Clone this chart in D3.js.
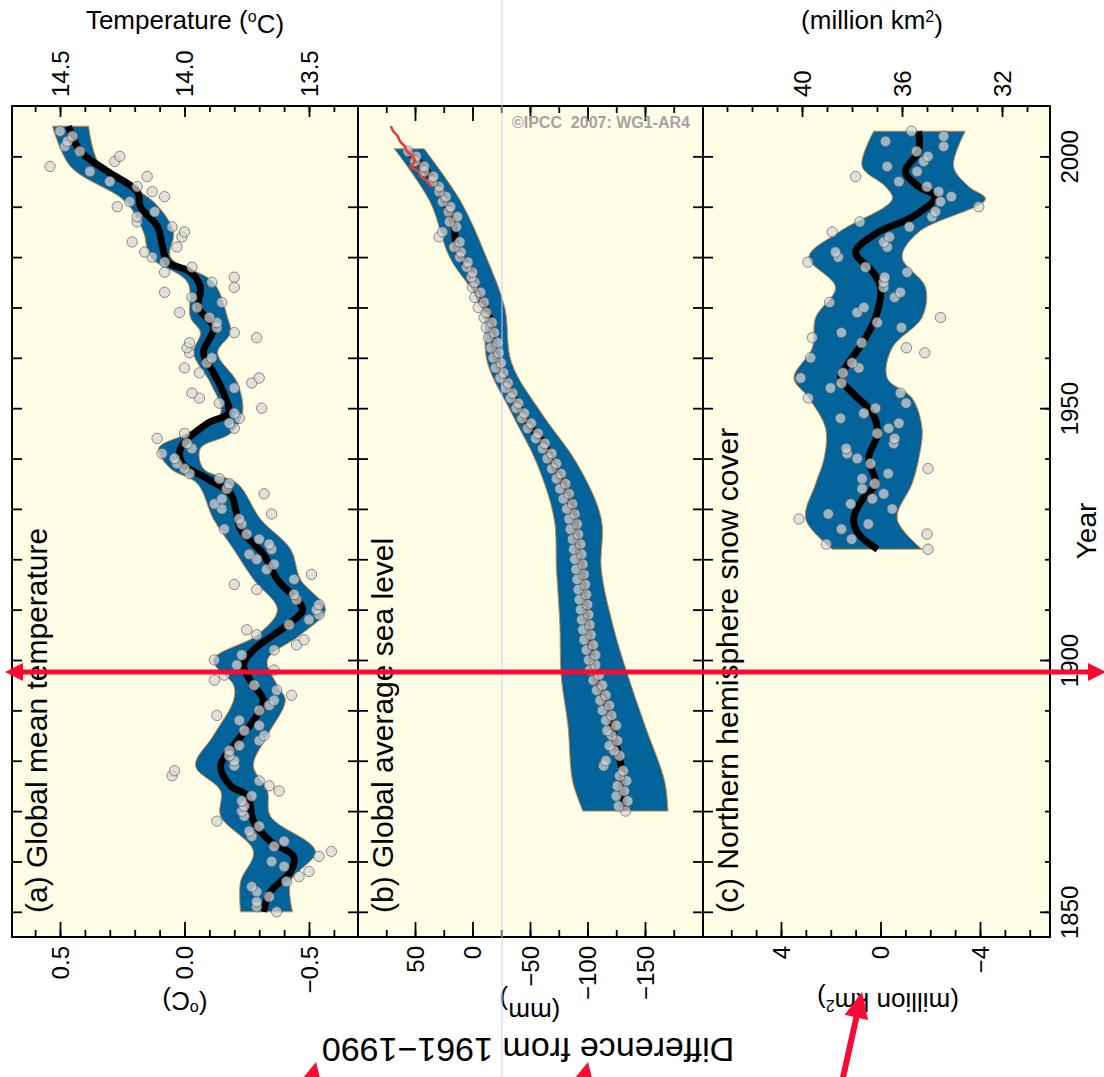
<!DOCTYPE html>
<html>
<head>
<meta charset="utf-8">
<script src="https://cdn.jsdelivr.net/npm/d3@7"></script>
<style>
body { margin: 0; background: #fff; }
svg { display: block; font-family: "Liberation Sans", Arial, Helvetica, sans-serif; }
</style>
</head>
<body>
<svg class="chart"></svg>
<script>
// (a) global mean temperature, annual anomaly vs 1961-1990 (degC), 1850..2005
var tempStart = 1850
var tempValues = [
	-0.37, -0.29, -0.29, -0.34, -0.29, -0.27, -0.41, -0.46, -0.50, -0.40,
	-0.35, -0.54, -0.59, -0.36, -0.40, -0.27, -0.26, -0.30, -0.13, -0.24,
	-0.23, -0.24, -0.23, -0.27, -0.38, -0.34, -0.30, 0.05, 0.04, -0.20,
	-0.20, -0.18, -0.18, -0.22, -0.30, -0.32, -0.24, -0.30, -0.22, -0.13,
	-0.30, -0.34, -0.36, -0.43, -0.37, -0.28, -0.12, -0.16, -0.36, -0.21,
	-0.12, -0.23, -0.36, -0.45, -0.48, -0.29, -0.25, -0.42, -0.50, -0.54,
	-0.53, -0.54, -0.45, -0.44, -0.29, -0.20, -0.44, -0.51, -0.33, -0.36,
	-0.29, -0.26, -0.35, -0.34, -0.30, -0.25, -0.16, -0.23, -0.22, -0.35,
	-0.15, -0.12, -0.15, -0.32, -0.17, -0.18, -0.14, -0.02, 0.00, 0.03,
	0.04, 0.09, -0.03, -0.01, 0.11, 0.00, -0.20, -0.18, -0.22, -0.20,
	-0.31, -0.14, -0.06, -0.03, -0.20, -0.27, -0.30, -0.06, 0.00, -0.09,
	-0.11, -0.02, -0.01, -0.02, -0.29, -0.20, -0.13, -0.13, -0.10, 0.02,
	-0.05, -0.15, -0.03, 0.08, -0.20, -0.11, -0.20, 0.08, -0.03, 0.08,
	0.13, 0.16, 0.03, 0.21, 0.01, 0.00, 0.05, 0.19, 0.19, 0.12,
	0.27, 0.22, 0.08, 0.13, 0.19, 0.30, 0.15, 0.38, 0.54, 0.28,
	0.26, 0.42, 0.48, 0.47, 0.45, 0.50
]
// decadal curve [year, anomaly]
var tempSmooth = [
	[1850, -0.317], [1854, -0.345], [1858, -0.426], [1861, -0.438], [1864, -0.345], [1868, -0.277],
	[1873, -0.253], [1875, -0.185], [1879, -0.145], [1883, -0.197], [1888, -0.277], [1892, -0.317],
	[1895, -0.277], [1899, -0.237], [1902, -0.277], [1907, -0.414], [1910, -0.474], [1916, -0.373],
	[1921, -0.317], [1926, -0.225], [1930, -0.205], [1933, -0.185], [1936, -0.092], [1939, 0.008],
	[1942, 0.016], [1947, -0.092], [1949, -0.177], [1953, -0.157], [1957, -0.117], [1961, -0.076],
	[1966, -0.117], [1970, -0.056], [1974, -0.064], [1977, -0.024], [1979, 0.068], [1982, 0.088],
	[1986, 0.108], [1990, 0.177], [1993, 0.189], [1997, 0.309], [2001, 0.418], [2006, 0.466]
]
// uncertainty range [year, upper, lower]
var tempBand = [
	[1850, -0.225, -0.434], [1856, -0.225, -0.426], [1862, -0.277, -0.526], [1869, -0.145, -0.345],
	[1874, -0.145, -0.333], [1879, -0.044, -0.277], [1885, -0.116, -0.333], [1892, -0.197, -0.405],
	[1895, -0.197, -0.373], [1900, -0.116, -0.333], [1905, -0.293, -0.466], [1910, -0.373, -0.566],
	[1916, -0.277, -0.466], [1922, -0.197, -0.426], [1928, -0.116, -0.305], [1935, -0.052, -0.213],
	[1938, 0.056, -0.076], [1942, 0.104, -0.064], [1945, -0.012, -0.185], [1949, -0.145, -0.233],
	[1955, -0.104, -0.213], [1961, -0.036, -0.133], [1965, -0.064, -0.185], [1968, -0.024, -0.173],
	[1975, -0.012, -0.116], [1980, 0.137, 0.056], [1985, 0.165, 0.044], [1991, 0.237, 0.124],
	[1998, 0.458, 0.337], [2006, 0.53, 0.385]
]

// (b) global average sea level (mm), 1870..2001
var seaStart = 1870
var seaValues = [
	-133, -127, -135, -125, -132, -126, -134, -128, -131, -114,
	-116, -128, -123, -119, -126, -121, -117, -125, -116, -121,
	-113, -119, -111, -116, -108, -113, -105, -110, -102, -107,
	-101, -107, -99, -105, -97, -103, -96, -102, -95, -101,
	-94, -100, -93, -99, -92, -98, -91, -97, -90, -96,
	-89, -95, -88, -94, -87, -92, -85, -91, -84, -89,
	-82, -87, -79, -84, -76, -81, -73, -77, -69, -73,
	-65, -69, -61, -63, -55, -57, -48, -51, -43, -45,
	-38, -40, -33, -35, -29, -31, -24, -27, -20, -25,
	-18, -23, -16, -22, -14, -19, -12, -17, -10, -12,
	-5, -10, -2, -7, 0, -2, 1, 0, 5, 4,
	11, 10, 16, 11, 29, 26, 14, 20, 13, 21,
	19, 26, 23, 29, 29, 35, 34, 42, 42, 50,
	49, 56
]
var seaSmooth = [
	[1870, -132], [1874, -130], [1878, -130], [1885, -123], [1891, -117], [1897, -106], [1902, -103],
	[1907, -100], [1913, -97], [1918, -95], [1923, -91], [1928, -89], [1933, -83], [1939, -70],
	[1943, -62], [1947, -48], [1953, -34], [1959, -22], [1962, -19], [1968, -15], [1973, -4],
	[1977, 1], [1982, 14], [1986, 16], [1990, 22], [1995, 33], [2001, 55]
]
var seaBand = [
	[1870, -96, -170], [1876, -87, -167], [1887, -83, -150], [1897, -77, -135], [1907, -76, -122],
	[1918, -73, -112], [1928, -71, -112], [1939, -56, -91], [1949, -34, -60], [1959, -13, -34],
	[1970, -8, -28], [1980, 20, -12], [1991, 37, 10], [2001.5, 68, 42]
]
// satellite altimetry
var seaSatellite = [
	[1994, 36], [1995, 39], [1996, 45], [1997, 47], [1998, 54], [1999, 50], [2000, 52],
	[2001, 57], [2002, 59], [2003, 63], [2004, 65], [2005, 69], [2006, 71]
]

// (c) northern hemisphere snow cover anomaly (million km2), 1922..2005
var snowStart = 1922
var snowValues = [
	-1.91, 2.18, 1.16, -1.87, 1.57, 0.49, 3.28, 2.10, -0.47, 1.20,
	0.33, -0.13, 0.74, 0.23, 0.74, -0.31, -1.91, 0.40, 0.94, 1.34,
	1.38, -0.53, -0.57, 0.13, -0.33, -0.74, 1.61, 0.67, 0.20, -1.03,
	2.90, -0.80, 2.01, 1.57, 3.21, 1.51, 0.87, 1.14, 2.81, -1.78,
	-1.04, 0.76, 2.74, 1.57, -0.84, 0.13, -2.41, 0.94, 0.67, 2.05,
	-0.57, -0.80, -0.13, -0.13, -0.17, -1.07, 0.60, 2.92, 1.70, 1.81,
	-0.27, -0.13, -0.36, 1.94, -1.16, 0.83, -2.07, -2.21, -3.95, -2.41,
	-2.85, -2.34, -1.87, -0.74, 1.00, -1.47, -0.27, -1.74, -1.91, -1.45,
	-2.54, -0.20, -2.54, -1.24
]
var snowSmooth = [
	[1922, 0.12], [1925, 0.88], [1928, 1.08], [1932, 0.72], [1935, 0.2], [1940, 0.48], [1945, 0.12],
	[1949, 0.32], [1953, 1.12], [1956, 1.6], [1959, 1.28], [1963, 0.72], [1968, 0.2], [1974, 0],
	[1977, 0.3], [1981, 1.0], [1985, 0.07], [1988, -1.3], [1992, -2.2], [1994, -1.53], [1997, -1.0],
	[2001, -1.53], [2005, -1.53]
]
var snowBand = [
	[1922, 1.94, -1.67], [1928, 3.01, -0.67], [1935, 2.61, -1.27], [1940, 2.27, -1.54],
	[1946, 2.21, -1.67], [1952, 2.88, -1.27], [1956, 3.48, -0.27], [1962, 2.74, -0.47],
	[1968, 2.61, -1.67], [1974, 1.81, -1.81], [1980, 2.88, -0.87], [1985, 1.67, -1.54],
	[1991.5, -0.47, -4.22], [1994, -0.2, -3.55], [1998, 0.74, -2.94], [2005, 0.27, -3.41]
]

// tick labels
var yearTicks = [1850, 1900, 1950, 2000]
var tempTicks = [0.5, 0.0, -0.5]
var tempAbsTicks = [14.5, 14.0, 13.5]
var seaTicks = [50, 0, -50, -100, -150]
var snowTicks = [4, 0, -4]
var snowAbsTicks = [40, 36, 32]

var width = 1104
var height = 1077
var plotTop = 106
var plotBottom = 937
var edges = [12, 358, 703, 1050]

var blue = "#03639b"
var cream = "#fffde6"

var svg = d3.select(".chart").attr("width", width).attr("height", height)

var yScale = d3.scaleLinear().domain([1845, 2010]).range([plotBottom, plotTop])
var xTemp = d3.scaleLinear().domain([0.5, -0.5]).range([60, 309])
var xTempAbs = d3.scaleLinear().domain([14.5, 13.5]).range([60, 309])
var xSea = d3.scaleLinear().domain([50, -150]).range([415, 645])
var xSnow = d3.scaleLinear().domain([4, -4]).range([781, 980])
var xSnowAbs = d3.scaleLinear().domain([40, 32]).range([802, 1002])

svg.append("rect")
	.attr("x", edges[0]).attr("y", plotTop)
	.attr("width", edges[3] - edges[0]).attr("height", plotBottom - plotTop)
	.attr("fill", cream)

function drawPanel(x, band, smooth, points) {
	var area = d3.area()
		.y(d => yScale(d[0]))
		.x0(d => x(d[1]))
		.x1(d => x(d[2]))
		.curve(d3.curveCatmullRom.alpha(0.5))
	svg.append("path").datum(band)
		.attr("d", area)
		.attr("fill", blue)
		.attr("stroke", "#d48a46")
		.attr("stroke-width", 1)

	var line = d3.line()
		.y(d => yScale(d[0]))
		.x(d => x(d[1]))
		.curve(d3.curveCatmullRom.alpha(0.5))
	svg.append("path").datum(smooth)
		.attr("d", line)
		.attr("fill", "none")
		.attr("stroke", "#000")
		.attr("stroke-width", 7)
		.attr("stroke-linejoin", "round")

	svg.append("g").selectAll("circle")
		.data(points)
		.enter()
		.append("circle")
		.attr("cx", d => x(d.value))
		.attr("cy", d => yScale(d.year))
		.attr("r", 5.2)
		.attr("fill", "#d6d6d6")
		.attr("fill-opacity", 0.72)
		.attr("stroke", "#5a5a5a")
		.attr("stroke-opacity", 0.75)
		.attr("stroke-width", 0.9)
}

function toPoints(start, values) {
	return values.map(function (v, i) {
		return { year: start + i, value: v }
	})
}

drawPanel(xTemp, tempBand, tempSmooth, toPoints(tempStart, tempValues))
drawPanel(xSea, seaBand, seaSmooth, toPoints(seaStart, seaValues))
drawPanel(xSnow, snowBand, snowSmooth, toPoints(snowStart, snowValues))

// satellite line above the dots
svg.append("path").datum(seaSatellite)
	.attr("d", d3.line().y(d => yScale(d[0])).x(d => xSea(d[1])).curve(d3.curveCatmullRom.alpha(0.5)))
	.attr("fill", "none")
	.attr("stroke", "#ea3a30")
	.attr("stroke-width", 2.5)

// panel frames
edges.slice(0, 3).forEach(function (x0, i) {
	svg.append("rect")
		.attr("x", x0).attr("y", plotTop)
		.attr("width", edges[i + 1] - x0).attr("height", plotBottom - plotTop)
		.attr("fill", "none").attr("stroke", "#000").attr("stroke-width", 2)
})

function styleAxis(g) {
	g.select(".domain").remove()
	g.attr("font-size", 24).attr("font-family", null).attr("stroke-width", 1.8)
	g.selectAll("line").attr("stroke", "#000")
	g.selectAll("text").attr("fill", "#000")
}

function valueAxis(scale, y, majors, minors, majorLen, minorLen, fmt, where) {
	var make = y === plotBottom ? d3.axisBottom : d3.axisTop
	svg.append("g").attr("transform", "translate(0," + y + ")")
		.call(make(scale).tickValues(minors).tickSize(-minorLen).tickFormat(""))
		.call(styleAxis)
	var g = svg.append("g").attr("transform", "translate(0," + y + ")")
		.call(make(scale).tickValues(majors).tickSize(-majorLen).tickFormat(fmt || ""))
		.call(styleAxis)
	if (where === "bottom") {
		g.selectAll("text").attr("x", 0).attr("y", 0).attr("dy", "0.35em")
			.attr("text-anchor", "end").attr("transform", "translate(0,9) rotate(-90)")
	} else if (where === "top") {
		g.selectAll("text").attr("x", 0).attr("y", 0).attr("dy", "0.35em")
			.attr("text-anchor", "start").attr("transform", "translate(0,-9) rotate(-90)")
	}
}

var tempMinor = d3.range(-6, 7).map(d => d / 10)
var tempAbsMinor = d3.range(134, 147).map(d => d / 10)
var seaMinor = d3.range(-175, 76, 25)
var snowMinor = d3.range(-6, 7)
var snowAbsMinor = d3.range(31, 44)

valueAxis(xTemp, plotBottom, tempTicks, tempMinor, 15, 7, d3.format(".1f"), "bottom")
valueAxis(xTempAbs, plotTop, tempAbsTicks, tempAbsMinor, 11, 6, d3.format(".1f"), "top")
valueAxis(xSea, plotBottom, seaTicks, seaMinor, 15, 7, d3.format("d"), "bottom")
valueAxis(xSea, plotTop, seaTicks, seaMinor, 15, 7, null, "none")
valueAxis(xSnow, plotBottom, snowTicks, snowMinor, 15, 7, d3.format("d"), "bottom")
valueAxis(xSnowAbs, plotTop, snowAbsTicks, snowAbsMinor, 11, 6, d3.format("d"), "top")

// year ticks on every panel side
var decades = d3.range(1850, 2001, 10)
svg.append("g").attr("transform", "translate(" + edges[0] + ",0)")
	.call(d3.axisLeft(yScale).tickValues(decades).tickSize(-10).tickFormat(""))
	.call(styleAxis)
;[edges[1], edges[2]].forEach(function (x) {
	svg.append("g").attr("transform", "translate(" + x + ",0)")
		.call(d3.axisLeft(yScale).tickValues(decades).tickSize(10).tickFormat(""))
		.call(styleAxis)
	svg.append("g").attr("transform", "translate(" + x + ",0)")
		.call(d3.axisRight(yScale).tickValues(decades).tickSize(10).tickFormat(""))
		.call(styleAxis)
})
svg.append("g").attr("transform", "translate(" + edges[3] + ",0)")
	.call(d3.axisRight(yScale).tickValues(decades).tickSize(-5).tickFormat(""))
	.call(styleAxis)
svg.append("g").attr("transform", "translate(" + edges[3] + ",0)")
	.call(d3.axisRight(yScale).tickValues(yearTicks).tickSize(-10).tickFormat(d3.format("d")))
	.call(styleAxis)
	.call(g => g.selectAll("text").attr("x", 0).attr("y", 0).attr("dy", "0.35em")
		.attr("text-anchor", "middle").attr("transform", "translate(20,0) rotate(-90)"))

// panel titles, reading upward
var panelTitles = ["(a) Global mean temperature", "(b) Global average sea level", "(c) Northern hemisphere snow cover"]
panelTitles.forEach(function (t, i) {
	svg.append("text")
		.attr("transform", "translate(" + (edges[i] + 35) + ",913) rotate(-90)")
		.attr("font-size", 30)
		.text(t)
})

function unitText(x, y, rot, size, pre, sup, post) {
	var t = svg.append("text")
		.attr("transform", "translate(" + x + "," + y + ") rotate(" + rot + ")")
		.attr("text-anchor", "middle")
		.attr("font-size", size)
	t.append("tspan").text(pre)
	t.append("tspan").attr("dy", "-0.45em").attr("font-size", size * 0.62).text(sup)
	t.append("tspan").attr("dy", "0.45em").text(post)
}

unitText(185, 29, 0, 26, "Temperature (", "o", "C)")
unitText(872, 29, 0, 26, "(million km", "2", ")")
unitText(185, 996, 180, 26, "(", "o", "C)")
unitText(530, 1003, 180, 26, "(mm", "", ")")
unitText(888, 993, 180, 26, "(million km", "2", ")")

svg.append("text")
	.attr("transform", "translate(528,1038) rotate(180)")
	.attr("text-anchor", "middle")
	.attr("font-size", 34)
	.text("Difference from 1961\u22121990")

svg.append("text")
	.attr("transform", "translate(1096,531) rotate(-90)")
	.attr("text-anchor", "middle")
	.attr("font-size", 28)
	.text("Year")

svg.append("text")
	.attr("x", 690).attr("y", 128)
	.attr("text-anchor", "end")
	.attr("font-size", 16)
	.attr("font-weight", "bold")
	.attr("fill", "#a3a3a3")
	.style("white-space", "pre")
	.text("\u00a9IPCC  2007: WG1-AR4")

// faint scan line
svg.append("line")
	.attr("x1", 502).attr("x2", 502).attr("y1", 0).attr("y2", height)
	.attr("stroke", "#c6cdf4").attr("stroke-width", 1)

// red annotation arrows
var red = "#fa0a32"
function arrowHead(x1, y1, x2, y2, headLen, headW) {
	var dx = x2 - x1, dy = y2 - y1, len = Math.sqrt(dx * dx + dy * dy)
	var ux = dx / len, uy = dy / len
	var bx = x2 - ux * headLen, by = y2 - uy * headLen
	svg.append("path")
		.attr("d", "M" + x2 + "," + y2 +
			"L" + (bx - uy * headW) + "," + (by + ux * headW) +
			"L" + (bx + uy * headW) + "," + (by - ux * headW) + "Z")
		.attr("fill", red)
	return [bx + ux * 2, by + uy * 2]
}
function arrow(x1, y1, x2, y2, w, headLen, headW) {
	var b = arrowHead(x1, y1, x2, y2, headLen, headW)
	svg.append("line")
		.attr("x1", x1).attr("y1", y1).attr("x2", b[0]).attr("y2", b[1])
		.attr("stroke", red).attr("stroke-width", w)
}
var arrowY = yScale(1897.6)
var leftEnd = arrowHead(1106, arrowY, 5, arrowY, 18, 9)
var rightEnd = arrowHead(5, arrowY, 1106, arrowY, 18, 9)
svg.append("line")
	.attr("x1", leftEnd[0]).attr("y1", arrowY).attr("x2", rightEnd[0]).attr("y2", arrowY)
	.attr("stroke", red).attr("stroke-width", 5)
arrow(303, 1120, 316, 1062, 6, 24, 12)
arrow(575, 1120, 588, 1062, 6, 24, 12)
arrow(838, 1100, 862, 992, 6, 26, 12)
</script>
</body>
</html>
